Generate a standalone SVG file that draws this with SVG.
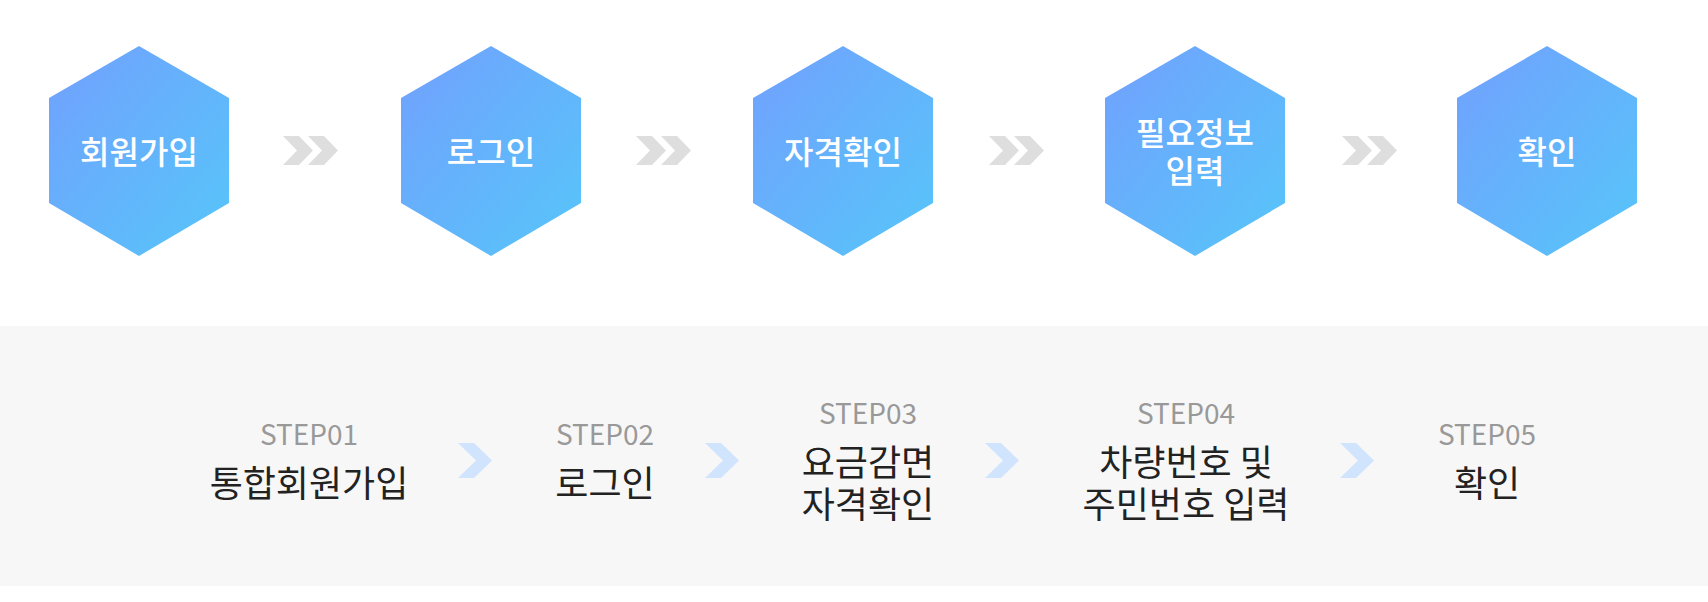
<svg xmlns="http://www.w3.org/2000/svg" width="1708" height="602" viewBox="0 0 1708 602">
<defs>
<linearGradient id="hexg" x1="0" y1="0" x2="1" y2="1">
<stop offset="0" stop-color="#72a0fe"/>
<stop offset="1" stop-color="#56c6f9"/>
</linearGradient>
<path id="hex" d="M0,-105 L90,-53 L90,52 L0,105 L-90,52 L-90,-53 Z"/>
<path id="dchev" d="M0,0 H16 L30,14.5 L16,29 H0 L14,14.5 Z"/>
<path id="bchev" d="M0,0 H16 L34,17.5 L16,35 H0 L18,17.5 Z"/>
</defs>
<style>
.hx{fill:url(#hexg);}
.ht{font-family:"Noto Sans CJK KR","Noto Sans",sans-serif;font-size:32px;font-weight:500;fill:#ffffff;text-anchor:middle;}
.st{font-family:"Noto Sans CJK KR","Noto Sans",sans-serif;font-size:28px;fill:#999999;text-anchor:middle;}
.lb{font-family:"Noto Sans CJK KR","Noto Sans",sans-serif;font-size:36px;fill:#222222;text-anchor:middle;}
.dc{fill:#dedede;}
.bc{fill:#d1e4fd;}
</style>
<rect x="0" y="0" width="1708" height="602" fill="#ffffff"/>
<rect x="0" y="326" width="1708" height="260" fill="#f7f7f7"/>

<g id="hex1"><use href="#hex" x="139" y="151" class="hx"/><text class="ht" x="139" y="164">회원가입</text></g>
<g id="hex2"><use href="#hex" x="491" y="151" class="hx"/><text class="ht" x="491" y="164">로그인</text></g>
<g id="hex3"><use href="#hex" x="843" y="151" class="hx"/><text class="ht" x="843" y="164">자격확인</text></g>
<g id="hex4"><use href="#hex" x="1195" y="151" class="hx"/><text class="ht" x="1195" y="145">필요정보<tspan x="1195" dy="38">입력</tspan></text></g>
<g id="hex5"><use href="#hex" x="1547" y="151" class="hx"/><text class="ht" x="1547" y="164">확인</text></g>

<g id="connectors">
<g class="dc">
<use href="#dchev" x="283" y="136"/><use href="#dchev" x="308" y="136"/>
<use href="#dchev" x="636" y="136"/><use href="#dchev" x="661" y="136"/>
<use href="#dchev" x="989" y="136"/><use href="#dchev" x="1014" y="136"/>
<use href="#dchev" x="1342" y="136"/><use href="#dchev" x="1367" y="136"/>
</g>
<g class="bc">
<use href="#bchev" x="458" y="443"/>
<use href="#bchev" x="705" y="443"/>
<use href="#bchev" x="985" y="443"/>
<use href="#bchev" x="1340" y="443"/>
</g>
</g>

<g id="step1"><text class="st" x="309" y="445">STEP01</text><text class="lb" x="309" y="497">통합회원가입</text></g>
<g id="step2"><text class="st" x="605" y="445">STEP02</text><text class="lb" x="605" y="497">로그인</text></g>
<g id="step3"><text class="st" x="868" y="424">STEP03</text><text class="lb" x="868" y="476">요금감면<tspan x="868" dy="42">자격확인</tspan></text></g>
<g id="step4"><text class="st" x="1186" y="424">STEP04</text><text class="lb" x="1186" y="476">차량번호 및<tspan x="1186" dy="42">주민번호 입력</tspan></text></g>
<g id="step5"><text class="st" x="1487" y="445">STEP05</text><text class="lb" x="1487" y="497">확인</text></g>
</svg>
